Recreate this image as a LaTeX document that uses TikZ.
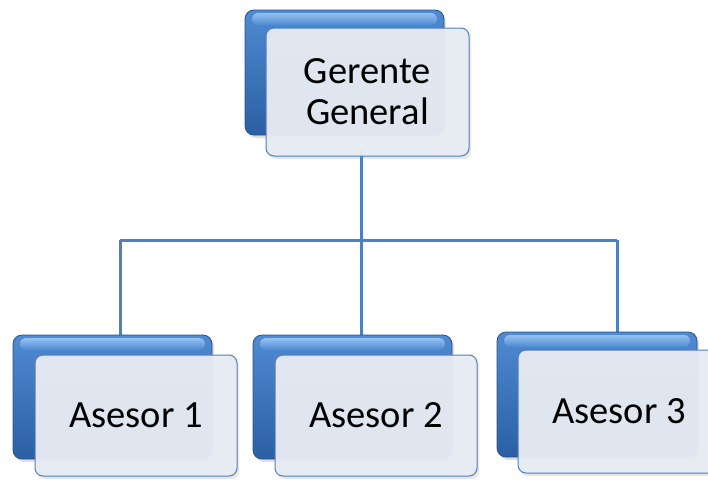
\documentclass[tikz,border=0pt]{standalone}
\usepackage{fontspec}
\setmainfont{Carlito}
\usetikzlibrary{shadows}
\definecolor{conn}{HTML}{4F81BD}
\definecolor{backtop}{HTML}{4F8AD2}
\definecolor{backbot}{HTML}{2B5FA3}
\definecolor{backedge}{HTML}{24528E}
\definecolor{glosstop}{HTML}{9CC8F4}
\definecolor{glossbot}{HTML}{4F8AD2}
\definecolor{frontfill}{HTML}{E7EBF3}
\definecolor{frontedge}{HTML}{4F7FBE}
\tikzset{
  backbox/.style={rounded corners=9pt, top color=backtop, bottom color=backbot, draw=backedge, line width=0.8pt,
    drop shadow={shadow xshift=2pt, shadow yshift=-3pt, opacity=0.25}, inner sep=0pt},
  glossbox/.style={rounded corners=6pt, top color=glosstop, bottom color=glossbot, draw=none, inner sep=0pt, opacity=0.9},
  frontbox/.style={rounded corners=8pt, fill=frontfill, fill opacity=0.96, text opacity=1, draw=frontedge, line width=1pt,
    drop shadow={shadow xshift=2pt, shadow yshift=-3pt, opacity=0.2},
    inner sep=0pt, align=center, font=\fontsize{38.5}{41}\selectfont},
  connector/.style={draw=conn, line width=3pt}
}
\begin{document}
\begin{tikzpicture}[x=1pt,y=-1pt]
\useasboundingbox (0,0) rectangle (708,479);
% connectors
\coordinate (j1) at (120,240);
\coordinate (j2) at (361,240);
\coordinate (j3) at (617,240);
\coordinate (t1) at (120,335);
\coordinate (t2) at (361,335);
\coordinate (t3) at (617,332);
\coordinate (t0) at (361,150);
\draw[connector] (t0) -- (j2);
\draw[connector] (j1) -- (j3);
\draw[connector] (j1) -- (t1);
\draw[connector] (j2) -- (t2);
\draw[connector] (j3) -- (t3);
% Gerente General
\node[backbox, minimum width=199pt, minimum height=125pt] (ggb) at (344.5,72.5) {};
\node[glossbox, minimum width=185pt, minimum height=12pt] (ggg) at (344.5,19) {};
\node[frontbox, minimum width=203pt, minimum height=128pt] (gg) at (367.5,92) {Gerente\\General};
% Asesor 1
\node[backbox, minimum width=199pt, minimum height=124pt] (a1b) at (112.5,397) {};
\node[glossbox, minimum width=185pt, minimum height=12pt] (a1g) at (112.5,344) {};
\node[frontbox, minimum width=202pt, minimum height=121pt] (a1) at (136,415.5) {Asesor 1};
% Asesor 2
\node[backbox, minimum width=199pt, minimum height=124pt] (a2b) at (352.5,397) {};
\node[glossbox, minimum width=185pt, minimum height=12pt] (a2g) at (352.5,344) {};
\node[frontbox, minimum width=202pt, minimum height=121pt] (a2) at (376,415.5) {Asesor 2};
% Asesor 3
\node[backbox, minimum width=200pt, minimum height=125pt] (a3b) at (597,394.5) {};
\node[glossbox, minimum width=186pt, minimum height=12pt] (a3g) at (597,341) {};
\node[frontbox, minimum width=202pt, minimum height=123pt] (a3) at (619,411.5) {Asesor 3};
\end{tikzpicture}
\end{document}
